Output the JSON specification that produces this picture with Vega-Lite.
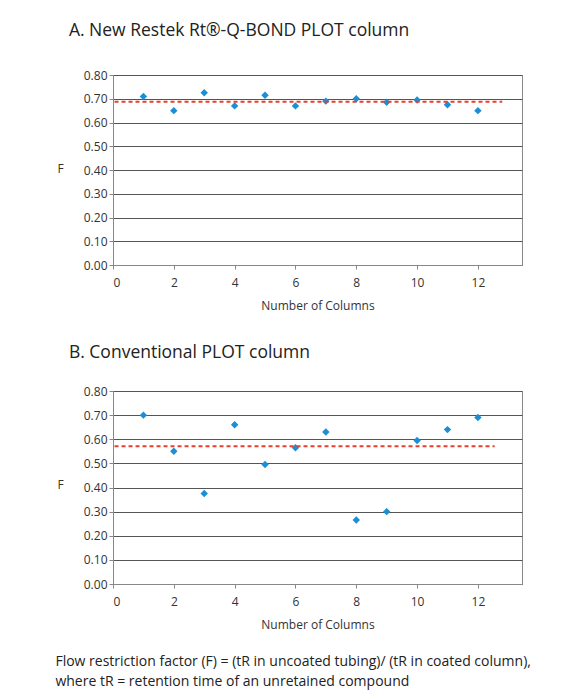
{
  "$schema": "https://vega.github.io/schema/vega-lite/v6.json",
  "background": "white",
  "padding": {"left": 55, "top": 21, "right": 5, "bottom": 5},
  "config": {
    "font": "Open Sans",
    "view": {"stroke": "#888", "strokeWidth": 1},
    "axis": {
      "labelFont": "Open Sans", "labelFontSize": 12, "labelColor": "#333", "labelOverlap": false,
      "titleFont": "Open Sans", "titleFontSize": 12, "titleFontWeight": "normal", "titleColor": "#333",
      "domainColor": "#888", "tickColor": "#888", "gridColor": "#555", "gridOpacity": 1, "tickSize": 4
    },
    "title": {"font": "Open Sans", "fontSize": 17.5, "fontWeight": "normal", "color": "#222", "anchor": "start"}
  },
  "datasets": {
    "a": [
      {"n": 1, "F": 0.71}, {"n": 2, "F": 0.65}, {"n": 3, "F": 0.725}, {"n": 4, "F": 0.67},
      {"n": 5, "F": 0.715}, {"n": 6, "F": 0.67}, {"n": 7, "F": 0.69}, {"n": 8, "F": 0.70},
      {"n": 9, "F": 0.685}, {"n": 10, "F": 0.695}, {"n": 11, "F": 0.675}, {"n": 12, "F": 0.65}
    ],
    "b": [
      {"n": 1, "F": 0.70}, {"n": 2, "F": 0.55}, {"n": 3, "F": 0.375}, {"n": 4, "F": 0.66},
      {"n": 5, "F": 0.495}, {"n": 6, "F": 0.565}, {"n": 7, "F": 0.63}, {"n": 8, "F": 0.265},
      {"n": 9, "F": 0.30}, {"n": 10, "F": 0.595}, {"n": 11, "F": 0.64}, {"n": 12, "F": 0.69}
    ],
    "ma": [{"x": 0.05, "x2": 12.8, "F": 0.687}],
    "mb": [{"x": 0.05, "x2": 12.55, "F": 0.571}]
  },
  "vconcat": [
    {
      "title": {"text": "A. New Restek Rt®-Q-BOND PLOT column", "dx": 12, "offset": 30},
      "width": 409, "height": 190,
      "layer": [
        {
          "data": {"name": "a"},
          "mark": {"type": "point", "shape": "diamond", "filled": true, "color": "#1a8fd6", "size": 55, "opacity": 1},
          "encoding": {
            "x": {"field": "n", "type": "quantitative", "scale": {"domain": [0, 13.45], "nice": false},
                  "axis": {"values": [0, 2, 4, 6, 8, 10, 12], "grid": false, "title": "Number of Columns", "labelPadding": 8, "titlePadding": 12}},
            "y": {"field": "F", "type": "quantitative", "scale": {"domain": [0, 0.8], "nice": false},
                  "axis": {"values": [0, 0.1, 0.2, 0.3, 0.4, 0.5, 0.6, 0.7, 0.8], "tickCount": 9, "format": ".2f", "title": "F",
                           "titleAngle": 0, "titleX": -53, "titleY": 100, "titleAlign": "center"}}
          }
        },
        {
          "data": {"name": "ma"},
          "mark": {"type": "rule", "color": "#e8402f", "strokeWidth": 2, "strokeDash": [4, 3]},
          "encoding": {
            "x": {"field": "x", "type": "quantitative", "axis": {"values": [0, 2, 4, 6, 8, 10, 12], "grid": false, "title": "Number of Columns", "labelPadding": 8, "titlePadding": 12}},
            "x2": {"field": "x2"},
            "y": {"field": "F", "type": "quantitative", "axis": {"values": [0, 0.1, 0.2, 0.3, 0.4, 0.5, 0.6, 0.7, 0.8], "tickCount": 9, "format": ".2f", "title": "F",
                           "titleAngle": 0, "titleX": -53, "titleY": 100, "titleAlign": "center"}}
          }
        }
      ]
    },
    {
      "title": {"text": "B. Conventional PLOT column", "dx": 12, "offset": 24},
      "width": 409, "height": 193,
      "layer": [
        {
          "data": {"name": "b"},
          "mark": {"type": "point", "shape": "diamond", "filled": true, "color": "#1a8fd6", "size": 55, "opacity": 1},
          "encoding": {
            "x": {"field": "n", "type": "quantitative", "scale": {"domain": [0, 13.45], "nice": false},
                  "axis": {"values": [0, 2, 4, 6, 8, 10, 12], "grid": false, "title": "Number of Columns", "labelPadding": 8, "titlePadding": 12}},
            "y": {"field": "F", "type": "quantitative", "scale": {"domain": [0, 0.8], "nice": false},
                  "axis": {"values": [0, 0.1, 0.2, 0.3, 0.4, 0.5, 0.6, 0.7, 0.8], "tickCount": 9, "format": ".2f", "title": "F",
                           "titleAngle": 0, "titleX": -53, "titleY": 100, "titleAlign": "center"}}
          }
        },
        {
          "data": {"name": "mb"},
          "mark": {"type": "rule", "color": "#e8402f", "strokeWidth": 2, "strokeDash": [4, 3]},
          "encoding": {
            "x": {"field": "x", "type": "quantitative", "axis": {"values": [0, 2, 4, 6, 8, 10, 12], "grid": false, "title": "Number of Columns", "labelPadding": 8, "titlePadding": 12}},
            "x2": {"field": "x2"},
            "y": {"field": "F", "type": "quantitative", "axis": {"values": [0, 0.1, 0.2, 0.3, 0.4, 0.5, 0.6, 0.7, 0.8], "tickCount": 9, "format": ".2f", "title": "F",
                           "titleAngle": 0, "titleX": -53, "titleY": 100, "titleAlign": "center"}}
          }
        }
      ]
    }
  ],
  "spacing": 31,
  "title": {
    "text": ["Flow restriction factor (F) = (tR in uncoated tubing)/ (tR in coated column),", "where tR = retention time of an unretained compound"],
    "orient": "bottom", "anchor": "start", "fontSize": 14, "color": "#222", "offset": 24, "lineHeight": 20, "dx": -1
  }
}
